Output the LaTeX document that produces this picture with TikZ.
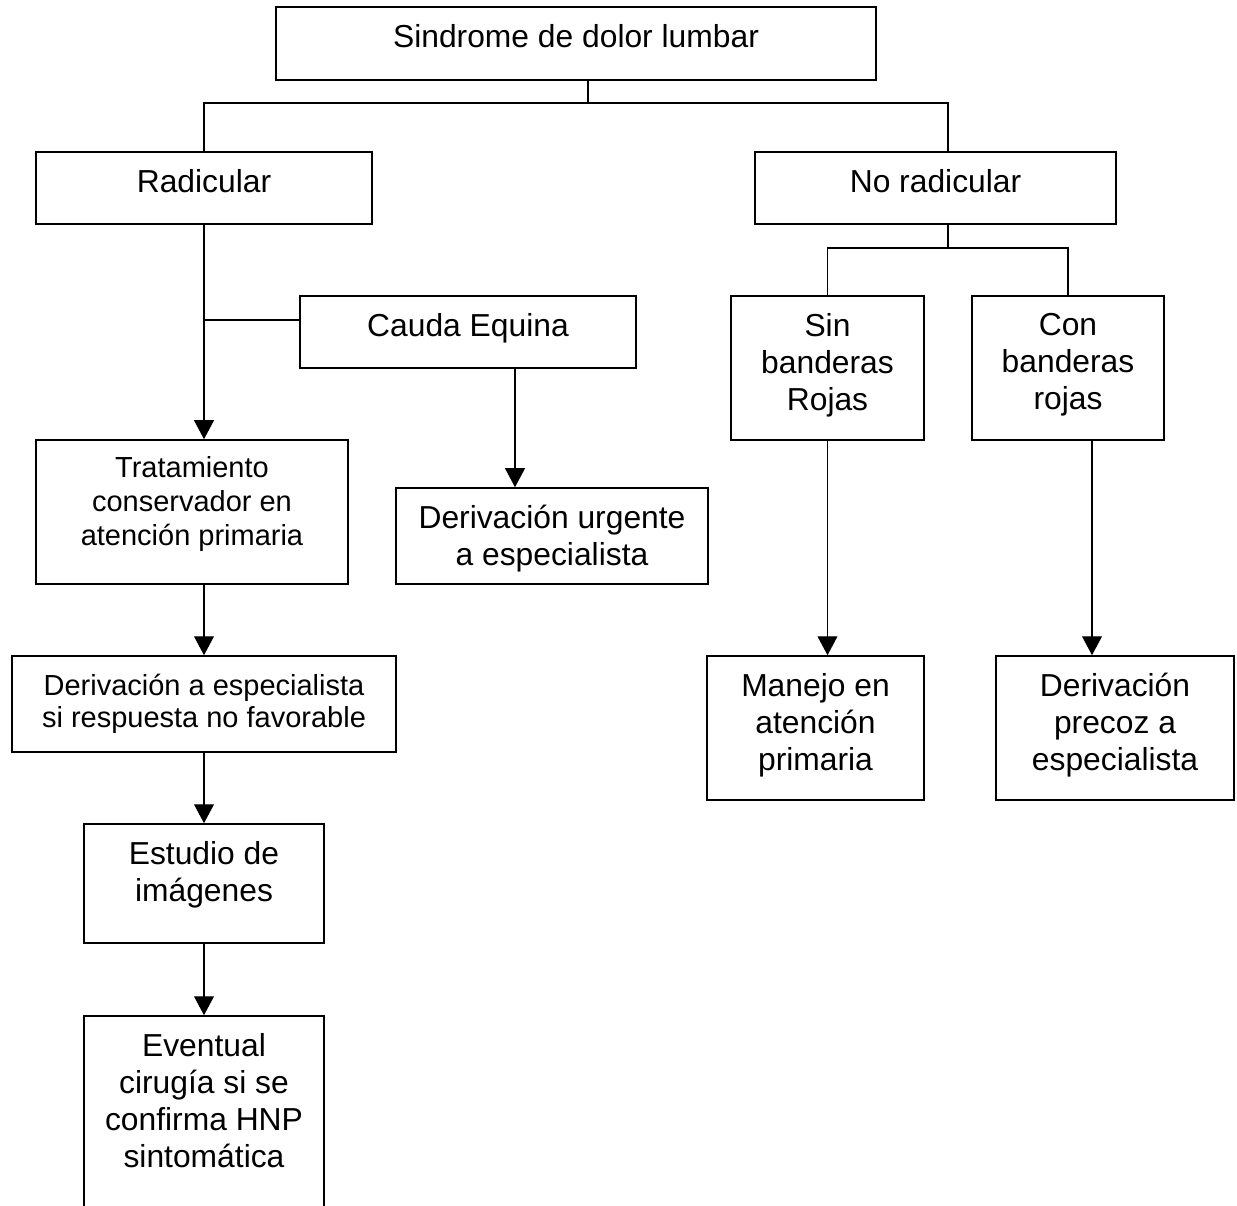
\documentclass[tikz,border=0pt]{standalone}
\usepackage{fontspec}
\setmainfont{Liberation Sans}
\usetikzlibrary{arrows.meta,calc,fit}

\begin{document}
\begin{tikzpicture}[x=0.02cm,y=-0.02cm,
    caja/.style={draw,line width=0.9pt,inner sep=0pt},
    texto/.style={anchor=north,inner sep=0pt,align=center,font=\fontsize{18.1}{21}\selectfont},
    linea/.style={line width=0.75pt},
    flecha/.style={linea,-{Triangle[width=11.3pt,length=10.8pt]}}]
    \clip (0,0) rectangle (1237,1205);
    % cajas
    \node[caja,fit={(276,7) (876,80)}] (sind) {};
    \node[caja,fit={(36,152) (372,224)}] (rad) {};
    \node[caja,fit={(755,152) (1116,224)}] (norad) {};
    \node[caja,fit={(300,296) (636,368)}] (cauda) {};
    \node[caja,fit={(36,440) (348,584)}] (trat) {};
    \node[caja,fit={(396,488) (708,584)}] (urg) {};
    \node[caja,fit={(12,656) (396,752)}] (deresp) {};
    \node[caja,fit={(84,824) (324,943)}] (est) {};
    \node[caja,fit={(84,1016) (324,1230)}] (event) {};
    \node[caja,fit={(731,296) (924,440)}] (sin) {};
    \node[caja,fit={(972,296) (1164,440)}] (con) {};
    \node[caja,fit={(707,656) (924,800)}] (man) {};
    \node[caja,fit={(996,656) (1234,800)}] (prec) {};
    % textos
    \node[texto] (sind-t) at ($(sind.north)+(0,18)$) {Sindrome de dolor lumbar};
    \node[texto] (rad-t) at ($(rad.north)+(0,18)$) {Radicular};
    \node[texto] (norad-t) at ($(norad.north)+(0,18)$) {No radicular};
    \node[texto] (cauda-t) at ($(cauda.north)+(0,18)$) {Cauda Equina};
    \node[texto,font=\fontsize{16.5}{19.3}\selectfont] (trat-t) at ($(trat.north)+(0,17)$)
        {Tratamiento\\conservador en\\atención primaria};
    \node[texto] (urg-t) at ($(urg.north)+(0,18)$) {Derivación urgente\\a especialista};
    \node[texto,font=\fontsize{16.5}{18}\selectfont] (deresp-t) at ($(deresp.north)+(0,19)$)
        {Derivación a especialista\\si respuesta no favorable};
    \node[texto] (est-t) at ($(est.north)+(0,18)$) {Estudio de\\imágenes};
    \node[texto] (event-t) at ($(event.north)+(0,18)$) {Eventual\\cirugía si se\\confirma HNP\\sintomática};
    \node[texto] (sin-t) at ($(sin.north)+(0,18)$) {Sin\\banderas\\Rojas};
    \node[texto] (con-t) at ($(con.north)+(0,18)$) {Con\\banderas\\rojas};
    \node[texto] (man-t) at ($(man.north)+(0,18)$) {Manejo en\\atención\\primaria};
    \node[texto] (prec-t) at ($(prec.north)+(0,18)$) {Derivación\\precoz a\\especialista};
    % uniones
    \coordinate (jtop) at (588,103);
    \coordinate (jnr) at (948,103);
    \coordinate (jc) at (204,320);
    \coordinate (jcd) at (515,0);
    \coordinate (jsc) at (948,248);
    \coordinate (jcp) at (1092,0);
    \draw[linea] (sind.south -| jtop) -- (jtop);
    \draw[linea] (rad.north) |- (jnr) -- (jnr |- norad.north);
    \draw[flecha] (rad.south) -- (rad.south |- trat.north);
    \draw[linea] (jc) -- (jc -| cauda.west);
    \draw[flecha] (cauda.south -| jcd) -- (jcd |- urg.north);
    \draw[flecha] (deresp.north |- trat.south) -- (deresp.north);
    \draw[flecha] (deresp.south) -- (est.north);
    \draw[flecha] (est.south) -- (event.north);
    \draw[linea] (jsc |- norad.south) -- (jsc);
    \draw[linea] (sin.north) |- (jsc) -| (con.north);
    \draw[flecha] (sin.south) -- (sin.south |- man.north);
    \draw[flecha] (con.south -| jcp) -- (jcp |- prec.north);
\end{tikzpicture}
\end{document}
